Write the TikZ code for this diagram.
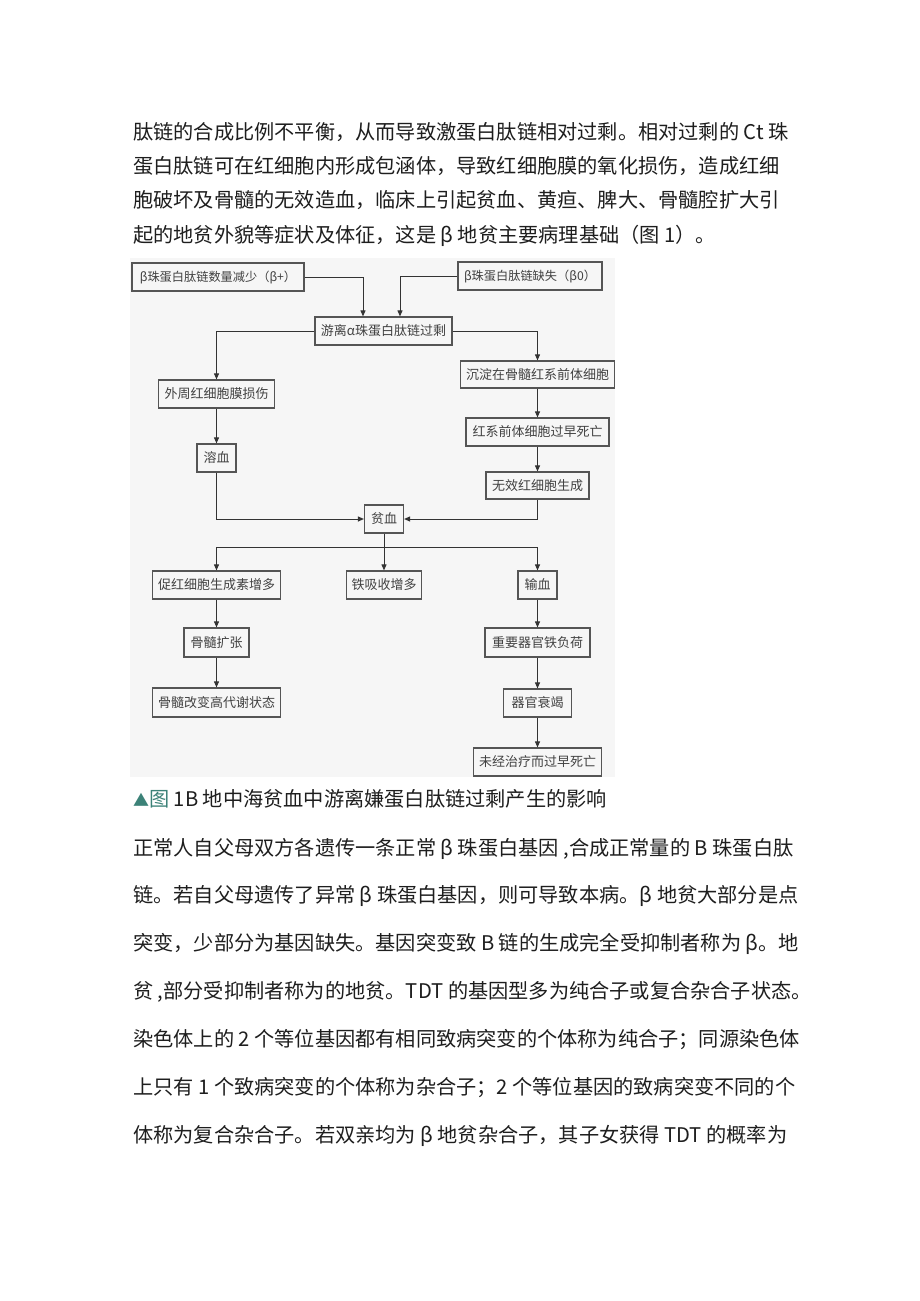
\documentclass[tikz,border=0pt]{standalone}
\usepackage{fontspec}
\setmainfont{Noto Sans CJK SC}
\usetikzlibrary{arrows.meta}
\definecolor{bodytext}{RGB}{30,30,30}
\definecolor{boxline}{RGB}{85,85,85}
\definecolor{boxtext}{RGB}{65,65,65}
\definecolor{diagbg}{RGB}{246,246,246}
\definecolor{teal1}{RGB}{60,130,120}
\tikzset{
  para/.style={anchor=base west, inner sep=0pt, text=bodytext, font=\fontsize{20.2}{24}\selectfont},
  fbox/.style={draw=boxline, line width=1.2pt, inner sep=0pt, minimum height=28pt, text=boxtext, font=\fontsize{13}{15}\selectfont},
  smallfbox/.style={fbox, font=\fontsize{12.2}{14}\selectfont},
  arr/.style={draw=black!80, line width=1pt, -{Triangle[length=6pt,width=5pt]}},
  ln/.style={draw=black!80, line width=1pt},
}
\begin{document}
\begin{tikzpicture}[x=1pt,y=-1pt]
\useasboundingbox (0,0) rectangle (920,1301);
\fill[white] (0,0) rectangle (920,1301);
% paragraph 1
\node[para] (p1) at (133,139) {肽链的合成比例不平衡，从而导致激蛋白肽链相对过剩。相对过剩的 Ct 珠};
\node[para] (p2) at (133,173) {蛋白肽链可在红细胞内形成包涵体，导致红细胞膜的氧化损伤，造成红细};
\node[para] (p3) at (133,207) {胞破坏及骨髓的无效造血，临床上引起贫血、黄疸、脾大、骨髓腔扩大引};
\node[para] (p4) at (133,242) {起的地贫外貌等症状及体征，这是 β 地贫主要病理基础（图 1）。};
% diagram background
\fill[diagbg] (130,258) rectangle (615,777);
% boxes
\node[smallfbox, minimum width=172pt] (n1) at (218,277) {β珠蛋白肽链数量减少（β+）};
\node[smallfbox, minimum width=144pt] (n2) at (530,276) {β珠蛋白肽链缺失（β0）};
\node[fbox, minimum width=137pt] (n3) at (383.5,331) {游离α珠蛋白肽链过剩};
\node[fbox, minimum width=116pt] (n4) at (216.5,394) {外周红细胞膜损伤};
\node[fbox, minimum width=154pt, minimum height=27pt] (n5) at (537.5,374.5) {沉淀在骨髓红系前体细胞};
\node[fbox, minimum width=143pt] (n6) at (537.5,432) {红系前体细胞过早死亡};
\node[fbox, minimum width=103pt, minimum height=27pt] (n7) at (537.5,485.5) {无效红细胞生成};
\node[fbox, minimum width=39pt] (n8) at (216.5,458) {溶血};
\node[fbox, minimum width=39pt] (n9) at (384,519) {贫血};
\node[fbox, minimum width=128pt] (n10) at (216.5,585) {促红细胞生成素增多};
\node[fbox, minimum width=75pt] (n11) at (384,585) {铁吸收增多};
\node[fbox, minimum width=39pt] (n12) at (537.5,585) {输血};
\node[fbox, minimum width=65pt, minimum height=29pt] (n13) at (216.5,642.5) {骨髓扩张};
\node[fbox, minimum width=105pt, minimum height=29pt] (n14) at (537.5,642.5) {重要器官铁负荷};
\node[fbox, minimum width=128pt, minimum height=29pt] (n15) at (216.5,702.5) {骨髓改变高代谢状态};
\node[fbox, minimum width=68pt] (n16) at (537.5,703) {器官衰竭};
\node[fbox, minimum width=128pt] (n17) at (537.5,762) {未经治疗而过早死亡};
% connectors
\draw[arr] (n1.east) -| ([xshift=-20.5pt]n3.north);
\draw[arr] (n2.west) -| ([xshift=16.5pt]n3.north);
\draw[arr] (n3.west) -| (n4.north);
\draw[arr] (n3.east) -| (n5.north);
\draw[arr] (n5) -- (n6);
\draw[arr] (n6) -- (n7);
\draw[arr] (n4) -- (n8);
\draw[arr] (n8.south) |- (n9.west);
\draw[arr] (n7.south) |- (n9.east);
\coordinate (split) at (384,547);
\draw[ln] (n9.south) -- (split);
\draw[arr] (split) -| (n10.north);
\draw[arr] (split) -- (n11.north);
\draw[arr] (split) -| (n12.north);
\draw[arr] (n10) -- (n13);
\draw[arr] (n13) -- (n15);
\draw[arr] (n12) -- (n14);
\draw[arr] (n14) -- (n16);
\draw[arr] (n16) -- (n17);
% caption
\node[para] (cap) at (133,806) {\textcolor{teal1}{\fontsize{16}{20}\selectfont▲}\textcolor{teal1}{图} 1B 地中海贫血中游离嫌蛋白肽链过剩产生的影响};
% paragraph 2
\node[para] (q1) at (133,855) {正常人自父母双方各遗传一条正常 β 珠蛋白基因 ,合成正常量的 B 珠蛋白肽};
\node[para] (q2) at (133,902) {链。若自父母遗传了异常 β 珠蛋白基因，则可导致本病。β 地贫大部分是点};
\node[para] (q3) at (133,950) {突变，少部分为基因缺失。基因突变致 B 链的生成完全受抑制者称为 β。地};
\node[para] (q4) at (133,998) {贫 ,部分受抑制者称为的地贫。TDT 的基因型多为纯合子或复合杂合子状态。};
\node[para] (q5) at (133,1046) {染色体上的 2 个等位基因都有相同致病突变的个体称为纯合子；同源染色体};
\node[para] (q6) at (133,1094) {上只有 1 个致病突变的个体称为杂合子；2 个等位基因的致病突变不同的个};
\node[para] (q7) at (133,1142) {体称为复合杂合子。若双亲均为 β 地贫杂合子，其子女获得 TDT 的概率为};
\end{tikzpicture}
\end{document}
